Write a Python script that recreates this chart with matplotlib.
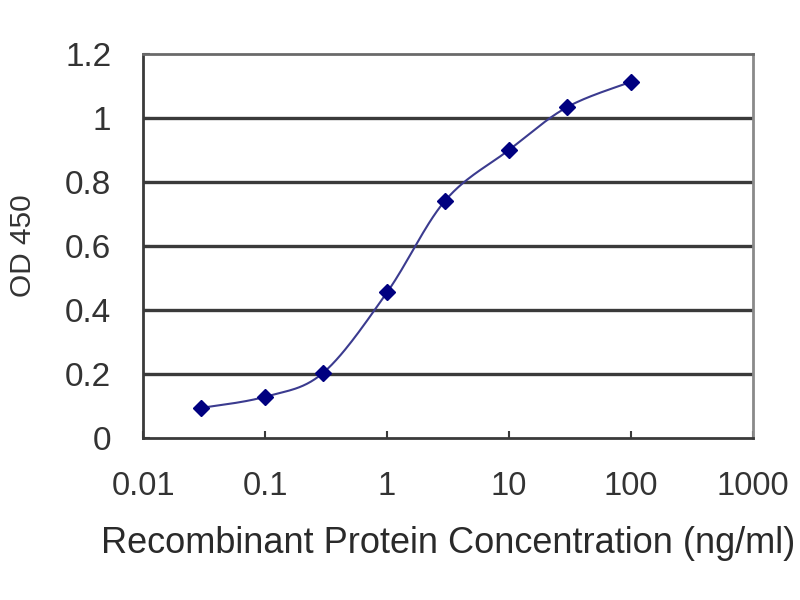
import matplotlib
matplotlib.use('Agg')
import matplotlib.pyplot as plt
import numpy as np

matplotlib.rcParams['font.family'] = ['Liberation Sans', 'DejaVu Sans']

# values
conc = [0.03, 0.1, 0.3, 1, 3, 10, 30, 100]
od450 = [0.094, 0.129, 0.204, 0.455, 0.742, 0.900, 1.034, 1.113]
xticks = [0.01, 0.1, 1, 10, 100, 1000]
xticklabels = ['0.01', '0.1', '1', '10', '100', '1000']
yticks = [0, 0.2, 0.4, 0.6, 0.8, 1, 1.2]
yticklabels = ['0', '0.2', '0.4', '0.6', '0.8', '1', '1.2']


def smooth_line(xs, ys, n=30):
    # excel-like smoothed line: catmull-rom bezier in (log x, y)
    lx = np.log10(np.asarray(xs, float))
    y = np.asarray(ys, float)
    px = np.concatenate([[lx[0]], lx, [lx[-1]]])
    py = np.concatenate([[y[0]], y, [y[-1]]])
    outx, outy = [], []
    t = np.linspace(0, 1, n)
    for i in range(1, len(px) - 2):
        p0 = np.array([px[i], py[i]])
        p3 = np.array([px[i + 1], py[i + 1]])
        c1 = p0 + (np.array([px[i + 1], py[i + 1]]) - np.array([px[i - 1], py[i - 1]])) / 6
        c2 = p3 - (np.array([px[i + 2], py[i + 2]]) - np.array([px[i], py[i]])) / 6
        for tt in t:
            b = ((1 - tt) ** 3) * p0 + 3 * ((1 - tt) ** 2) * tt * c1 + 3 * (1 - tt) * tt ** 2 * c2 + tt ** 3 * p3
            outx.append(b[0])
            outy.append(b[1])
    return 10 ** np.array(outx), np.array(outy)


fig = plt.figure(figsize=(8, 6), dpi=100)
ax = fig.add_axes([0.179, 0.27, 0.762, 0.64])

ax.set_xscale('log')
ax.set_xlim(0.01, 1000)
ax.set_ylim(0, 1.2)

for yv in yticks[1:-1]:
    ax.axhline(yv, color='#3a3a3a', lw=2.4, zorder=1)

sx, sy = smooth_line(conc, od450)
ax.plot(sx, sy, color='#3b3b8f', lw=1.5, zorder=2)
ax.plot(conc, od450, linestyle='none', marker='D', markersize=8,
        color='#000080', zorder=3)

ax.set_xticks(xticks)
ax.set_xticklabels(xticklabels)
ax.xaxis.set_minor_locator(matplotlib.ticker.NullLocator())
ax.set_yticks(yticks)
ax.set_yticklabels(yticklabels)
ax.tick_params(axis='x', direction='in', length=5, width=1.5, color='#3a3a3a',
               labelsize=23.5, labelcolor='#333333', pad=24)
ax.tick_params(axis='y', direction='in', length=5, width=1.5, color='#3a3a3a',
               labelsize=24, labelcolor='#333333', pad=23)

ax.spines['left'].set_color('#3a3a3a')
ax.spines['bottom'].set_color('#3a3a3a')
ax.spines['left'].set_linewidth(2)
ax.spines['bottom'].set_linewidth(2)
ax.spines['top'].set_color('#6a6a6a')
ax.spines['right'].set_color('#8a8a8a')
ax.spines['top'].set_linewidth(2)
ax.spines['right'].set_linewidth(2)

ax.set_xlabel('Recombinant Protein Concentration (ng/ml)', fontsize=26,
              color='#2a2a2a', labelpad=17)
ax.set_ylabel('OD 450', fontsize=21.5, color='#333333', labelpad=20)

fig.savefig('out.png', dpi=100)
